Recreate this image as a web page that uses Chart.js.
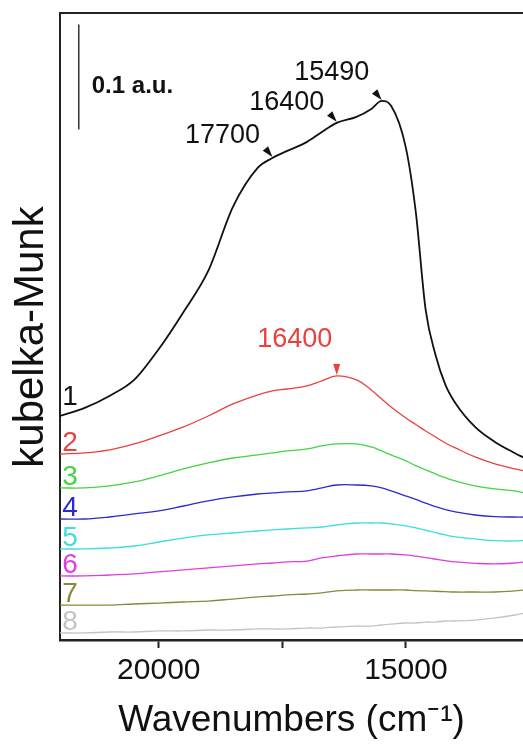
<!DOCTYPE html>
<html lang="en">
<head>
    <meta charset="UTF-8">
    <title>Kubelka-Munk spectra</title>
    <script src="https://cdn.jsdelivr.net/npm/chart.js"></script>
    <style>
        body {
            margin: 0;
            padding: 0;
            background-color: #fff;
        }
        #spectra {
            display: block;
        }
    </style>
</head>
<body>
    <canvas id="spectra" width="523" height="744"></canvas>

    <script>
        const FONT = 'Arial, "Liberation Sans", sans-serif';

        // wavenumber grid (cm-1), shared by all spectra
        const wavenumbers = [22000, 21500, 21000, 20500, 20000, 19500, 19000, 18500, 18000, 17700,
            17400, 17000, 16700, 16400, 16000, 15700, 15490, 15300, 15000, 14800,
            14600, 14400, 14200, 14000, 13600, 13200, 12800, 12600];

        // kubelka-Munk intensity (a.u., stacked as in the figure)
        const spectrum1 = [0.2133, 0.2210, 0.2324, 0.2476, 0.2771, 0.3124, 0.3514, 0.4124, 0.4495, 0.4590,
            0.4657, 0.4743, 0.4838, 0.4924, 0.4981, 0.5057, 0.5133, 0.5086, 0.4686, 0.4076,
            0.3143, 0.2714, 0.2429, 0.2257, 0.2029, 0.1886, 0.1781, 0.1733];
        const spectrum2 = [0.1771, 0.1781, 0.1810, 0.1867, 0.1943, 0.2029, 0.2133, 0.2248, 0.2333, 0.2371,
            0.2390, 0.2419, 0.2467, 0.2514, 0.2476, 0.2381, 0.2295, 0.2219, 0.2114, 0.2052,
            0.1990, 0.1933, 0.1876, 0.1829, 0.1743, 0.1676, 0.1629, 0.1610];
        const spectrum3 = [0.1448, 0.1448, 0.1467, 0.1505, 0.1562, 0.1629, 0.1686, 0.1733, 0.1762, 0.1781,
            0.1800, 0.1819, 0.1848, 0.1867, 0.1867, 0.1838, 0.1800, 0.1762, 0.1705, 0.1660,
            0.1619, 0.1581, 0.1545, 0.1514, 0.1467, 0.1438, 0.1419, 0.1400];
        const spectrum4 = [0.1152, 0.1152, 0.1171, 0.1200, 0.1229, 0.1276, 0.1324, 0.1362, 0.1390, 0.1400,
            0.1410, 0.1419, 0.1448, 0.1476, 0.1476, 0.1467, 0.1448, 0.1419, 0.1371, 0.1338,
            0.1303, 0.1270, 0.1241, 0.1219, 0.1190, 0.1174, 0.1171, 0.1171];
        const spectrum5 = [0.0867, 0.0867, 0.0876, 0.0895, 0.0933, 0.0971, 0.1000, 0.1019, 0.1038, 0.1048,
            0.1057, 0.1067, 0.1076, 0.1095, 0.1114, 0.1114, 0.1114, 0.1105, 0.1086, 0.1067,
            0.1045, 0.1022, 0.1000, 0.0981, 0.0962, 0.0946, 0.0943, 0.0950];
        const spectrum6 = [0.0610, 0.0610, 0.0619, 0.0629, 0.0648, 0.0667, 0.0686, 0.0705, 0.0724, 0.0733,
            0.0743, 0.0752, 0.0781, 0.0800, 0.0819, 0.0819, 0.0819, 0.0819, 0.0810, 0.0798,
            0.0784, 0.0769, 0.0755, 0.0743, 0.0730, 0.0724, 0.0733, 0.0743];
        const spectrum7 = [0.0333, 0.0333, 0.0333, 0.0343, 0.0352, 0.0362, 0.0371, 0.0390, 0.0410, 0.0419,
            0.0429, 0.0438, 0.0448, 0.0467, 0.0476, 0.0476, 0.0476, 0.0476, 0.0476, 0.0470,
            0.0467, 0.0464, 0.0460, 0.0457, 0.0457, 0.0457, 0.0467, 0.0476];
        const spectrum8 = [0.0067, 0.0067, 0.0076, 0.0076, 0.0086, 0.0086, 0.0095, 0.0095, 0.0105, 0.0105,
            0.0105, 0.0114, 0.0114, 0.0124, 0.0133, 0.0133, 0.0143, 0.0152, 0.0162, 0.0162,
            0.0171, 0.0171, 0.0181, 0.0181, 0.0190, 0.0210, 0.0238, 0.0257];

        const spectra = [spectrum1, spectrum2, spectrum3, spectrum4, spectrum5, spectrum6, spectrum7, spectrum8];
        const sampleNames = ['1', '2', '3', '4', '5', '6', '7', '8'];
        const sampleColors = ['#111111', '#e8423f', '#44d444', '#2b2bd0', '#3ddede', '#e13ee1', '#8a883a', '#c4c4c4'];

        // x axis ticks
        const majorTicks = [20000, 15000];
        const minorTicks = [17500];

        // peak labels: wavenumber, spectrum index, text
        const peakWavenumbers = [17700, 16400, 15490, 16400];
        const peakSpectrum = [0, 0, 0, 1];
        const peakTexts = ['17700', '16400', '15490', '16400'];

        // scale bar: 0.1 a.u.
        const scaleBarValue = 0.1;
        const scaleBarTop = 0.586;
        const scaleBarWavenumber = 21620;

        const datasets = spectra.map((values, i) => ({
            label: sampleNames[i],
            data: values.map((v, j) => ({ x: wavenumbers[j], y: v })),
            borderColor: sampleColors[i],
            borderWidth: i === 0 ? 1.8 : 1.3,
            pointRadius: 0,
            fill: false,
            tension: 0.4,
            cubicInterpolationMode: i === 0 ? 'monotone' : 'default'
        }));

        const decorations = {
            id: 'decorations',
            afterDatasetsDraw(chart) {
                const { ctx, chartArea, scales: { x, y } } = chart;
                ctx.save();

                // top frame line
                ctx.strokeStyle = '#222';
                ctx.lineWidth = 2;
                ctx.beginPath();
                ctx.moveTo(chartArea.left, chartArea.top);
                ctx.lineTo(chartArea.right, chartArea.top);
                ctx.stroke();

                // scale bar
                const bx = x.getPixelForValue(scaleBarWavenumber);
                ctx.strokeStyle = '#333';
                ctx.lineWidth = 1.5;
                ctx.beginPath();
                ctx.moveTo(bx, y.getPixelForValue(scaleBarTop));
                ctx.lineTo(bx, y.getPixelForValue(scaleBarTop - scaleBarValue));
                ctx.stroke();
                ctx.fillStyle = '#111';
                ctx.font = 'bold 24px ' + FONT;
                ctx.textAlign = 'left';
                ctx.textBaseline = 'alphabetic';
                ctx.fillText(scaleBarValue + ' a.u.', bx + 13, 93);

                // sample numbers at the left end of each curve
                ctx.font = '28px ' + FONT;
                ctx.textAlign = 'center';
                spectra.forEach((values, i) => {
                    const py = y.getPixelForValue(values[0]);
                    ctx.fillStyle = sampleColors[i];
                    ctx.fillText(sampleNames[i], chartArea.left + 10, py - (i === 0 ? 11 : 3));
                });

                // peak labels with small arrows
                const textOffsets = [[-50, -21], [-50, -19], [-50, -27], [-42, -35]];
                ctx.font = '27px ' + FONT;
                ctx.textBaseline = 'middle';
                peakWavenumbers.forEach((w, i) => {
                    const s = peakSpectrum[i];
                    const j = wavenumbers.indexOf(w);
                    const tx = x.getPixelForValue(w);
                    const ty = y.getPixelForValue(spectra[s][j]) - 1;
                    ctx.fillStyle = sampleColors[s];
                    ctx.fillText(peakTexts[i], tx + textOffsets[i][0], ty + textOffsets[i][1]);

                    // arrow head
                    const dir = s === 0 ? [-0.64, -0.77] : [0, -1];
                    const len = 11, half = 3.5;
                    const baseX = tx + dir[0] * len, baseY = ty + dir[1] * len;
                    ctx.beginPath();
                    ctx.moveTo(tx, ty);
                    ctx.lineTo(baseX - dir[1] * half, baseY + dir[0] * half);
                    ctx.lineTo(baseX + dir[1] * half, baseY - dir[0] * half);
                    ctx.closePath();
                    ctx.fill();
                });

                ctx.restore();
            }
        };

        const ctx = document.getElementById('spectra').getContext('2d');
        new Chart(ctx, {
            type: 'line',
            data: { datasets },
            plugins: [decorations],
            options: {
                responsive: false,
                animation: false,
                layout: { padding: { top: 13, right: 0, left: 0, bottom: 0 } },
                plugins: {
                    legend: { display: false },
                    tooltip: { enabled: false }
                },
                scales: {
                    x: {
                        type: 'linear',
                        reverse: true,
                        min: 12630,
                        max: 22000,
                        afterBuildTicks: scale => {
                            scale.ticks = majorTicks.concat(minorTicks).sort((a, b) => b - a).map(v => ({ value: v }));
                        },
                        afterFit: scale => { scale.height = 104; },
                        ticks: {
                            autoSkip: false,
                            maxRotation: 0,
                            padding: 5,
                            color: '#111',
                            font: { size: 30, family: FONT },
                            callback: v => majorTicks.includes(v) ? String(v) : ''
                        },
                        grid: {
                            display: true,
                            drawOnChartArea: false,
                            drawTicks: true,
                            tickLength: 8,
                            tickColor: '#222',
                            tickWidth: 2
                        },
                        border: { display: true, color: '#222', width: 2.5 },
                        title: {
                            display: true,
                            text: 'Wavenumbers (cm\u207B\u00B9)',
                            color: '#111',
                            font: { size: 37, family: FONT },
                            padding: { top: 0, bottom: 1 }
                        }
                    },
                    y: {
                        min: 0,
                        max: 0.597,
                        afterFit: scale => { scale.width = 60; },
                        ticks: { display: false },
                        grid: { display: true, drawOnChartArea: false, drawTicks: false },
                        border: { display: true, color: '#222', width: 2 },
                        title: {
                            display: true,
                            text: 'kubelka-Munk\u2002',
                            color: '#111',
                            font: { size: 42, family: FONT },
                            padding: { top: 6, bottom: 0 }
                        }
                    }
                }
            }
        });
    </script>
</body>
</html>
